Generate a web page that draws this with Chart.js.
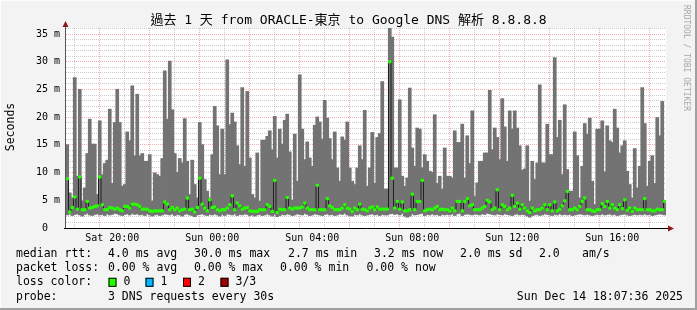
<!DOCTYPE html>
<html>
<head>
<meta charset="utf-8">
<script src="https://cdn.jsdelivr.net/npm/chart.js@4"></script>
<style>
  html, body { margin: 0; padding: 0; background: #f3f3f3; }
  canvas { display: block; }
</style>
</head>
<body>
<canvas id="chart" width="697" height="310"></canvas>
<script>
/* --------------------------------------------
   Data
-------------------------------------------- */
const startHour = 18.15; // Sat 18:09, hours since Sat 00:00
const stepHours = 0.1;

// bottom of the smoke (fastest ping), ms
const smokeMin = [
  2.4, 2.6, 2.3, 2.5, 2.6, 2.4, 2.2, 2.5, 2.7, 2.4, 2.3, 2.5, 2.6, 2.4, 2.5, 2.3, 2.6, 2.4, 2.5, 2.7,
  2.6, 2.4, 2.3, 2.5, 2.6, 2.4, 2.7, 2.5, 2.6, 2.4, 2.5, 2.3, 2.6, 2.4, 2.2, 2.4, 2.5, 2.3, 2.4, 2.6,
  2.5, 2.4, 2.6, 2.3, 2.5, 2.4, 2.2, 2.5, 2.6, 2.4, 2.3, 2.1, 2.4, 2.5, 2.6, 2.4, 2.3, 2.5, 2.4, 2.6,
  2.4, 2.2, 2.5, 2.3, 2.6, 2.5, 2.4, 2.6, 2.3, 2.5, 2.4, 2.6, 2.5, 2.3, 2.4, 2.2, 2.4, 2.5, 2.3, 2.4,
  2.6, 2.4, 2.2, 2.5, 2.1, 2.3, 2.5, 2.4, 2.6, 2.5, 2.3, 2.4, 2.6, 2.5, 2.4, 2.7, 2.5, 2.3, 2.4, 2.6,
  2.5, 2.4, 2.3, 2.5, 2.6, 2.4, 2.5, 2.3, 2.4, 2.6, 2.5, 2.7, 2.4, 2.3, 2.2, 2.5, 2.4, 2.6, 2.4, 2.3,
  2.4, 2.5, 2.6, 2.4, 2.5, 2.3, 2.5, 2.4, 2.4, 2.6, 2.7, 2.5, 2.6, 2.4, 2.7, 2.2, 2.0, 2.2, 2.6, 2.4,
  2.5, 2.6, 2.7, 2.3, 2.5, 2.4, 2.6, 2.4, 2.5, 2.3, 2.5, 2.4, 2.5, 2.4, 2.6, 2.3, 2.6, 2.7, 2.3, 2.5,
  2.6, 2.5, 2.4, 2.6, 2.5, 2.4, 2.6, 2.5, 2.7, 2.6, 2.5, 2.4, 2.6, 2.5, 2.4, 2.6, 2.5, 2.4, 2.3, 2.5,
  2.6, 2.4, 2.5, 2.4, 2.2, 2.0, 2.3, 2.4, 2.5, 2.3, 2.4, 2.6, 2.5, 2.4, 2.3, 2.5, 2.4, 2.6, 2.4, 2.5,
  2.4, 2.5, 2.3, 2.4, 2.5, 2.6, 2.5, 2.4, 2.5, 2.4, 2.3, 2.4, 2.5, 2.4, 2.6, 2.4, 2.5, 2.6, 2.4, 2.5,
  2.3, 2.4, 2.5, 2.6, 2.4, 2.3, 2.4, 2.5, 2.4, 2.5, 2.4, 2.6, 2.4, 2.5, 2.3, 2.4, 2.5, 2.6, 2.5, 2.4,
];

// top of the smoke (slowest ping), ms
const smokeMax = [
  15, 6.3, 5.4, 27.1, 9.3, 25, 4.8, 7.2, 13.4, 19.6, 15.1, 15.1, 6, 19.3, 9.6, 11.6, 12.2, 21.4, 8, 19,
  25, 19, 7.5, 7.8, 17.3, 15.7, 25.6, 13, 24.1, 13, 13.4, 12, 12, 13.2, 4.8, 9.9, 9.6, 9.3, 12.5, 28.3,
  19.6, 30.1, 21.3, 13.4, 10, 12.5, 11.7, 19.7, 12, 6, 12.2, 7.8, 5.4, 19, 15, 8.7, 6.6, 5.4, 13.2, 21.9,
  18.4, 9.6, 17.8, 9.6, 30.3, 18.6, 20.7, 19.1, 14.8, 11.4, 25.3, 11.1, 24.6, 12.6, 6, 5.4, 13.5, 4.8, 15.8, 15.8,
  16.5, 17.5, 14.1, 20.1, 12.6, 17.8, 15.1, 19.4, 20.5, 13.7, 5, 16.9, 8.4, 27.6, 17.8, 12.3, 15.5, 12.6, 11.1, 18.5,
  20, 19.1, 16, 23, 19.8, 16.1, 12.3, 17.3, 10.8, 8.4, 16.4, 15.8, 19.1, 10.8, 8.4, 7.8, 10.8, 14.8, 12.3, 21.2,
  7.5, 10.8, 17.2, 8, 16.3, 17, 26.4, 7, 7, 36.5, 34.4, 10.8, 10.8, 23.1, 9.3, 7.5, 9, 25.2, 14.4, 11.1,
  18, 17.8, 10.8, 13.2, 12, 10.2, 10, 20.4, 8, 9.3, 7, 14.4, 9.3, 9.3, 9, 17.5, 15.4, 15.4, 18.7, 9,
  16.6, 11.6, 21.1, 5.7, 8.1, 12, 12, 13.5, 13.5, 24.8, 14.1, 18, 16.3, 12.3, 23.3, 18.2, 12, 21.1, 17.8, 21.1,
  18, 14.8, 10.4, 10.6, 14.8, 4.8, 12, 8.7, 11.7, 25.8, 11.7, 11.7, 18.7, 13.2, 13.2, 30.7, 16.3, 19.4, 9.6, 22.2,
  10.5, 6.6, 6.6, 17.3, 13, 5.4, 11.1, 18.8, 16.9, 19.8, 8.4, 4.2, 17.8, 17.8, 19.3, 10.1, 18.4, 15.7, 15.4, 21.4,
  18, 13.5, 14.8, 15.7, 10.2, 7.8, 5.4, 14.3, 7.2, 11.1, 25.3, 18.8, 7.5, 12, 13, 8, 19.9, 16.6, 22.8, 4.9,
];

// median rtt, ms
const medianRtt = [
  8.9, 2.9, 3.7, 5.6, 3.4, 9.2, 3.3, 3.3, 4.8, 3.6, 3.7, 3.9, 4.0, 9.2, 4.2, 3.3, 3.3, 3.7, 3.6, 3.4,
  3.6, 3.3, 3.1, 3.9, 3.9, 3.6, 4.3, 4.3, 4.2, 3.9, 3.4, 3.4, 3.4, 3.1, 3.0, 3.1, 3.1, 3.1, 3.1, 4.7,
  4.3, 3.3, 3.7, 3.3, 3.6, 3.1, 3.3, 3.4, 5.4, 3.3, 3.4, 2.9, 3.7, 9.0, 4.3, 3.6, 3.1, 5.1, 3.7, 3.8,
  3.3, 3.1, 3.3, 3.3, 3.6, 4.2, 5.8, 3.3, 4.5, 4.0, 3.4, 3.6, 3.7, 3.1, 3.0, 3.0, 3.0, 3.3, 3.3, 3.3,
  4.2, 3.9, 3.0, 8.6, 2.8, 3.4, 3.3, 3.3, 5.5, 3.6, 3.4, 3.6, 3.6, 3.6, 3.8, 4.5, 3.6, 3.3, 3.3, 3.3,
  7.7, 3.3, 3.3, 3.3, 5.3, 4.0, 3.7, 3.3, 3.3, 3.3, 3.6, 4.2, 3.6, 3.4, 3.0, 3.6, 3.3, 4.3, 3.4, 3.3,
  3.1, 3.6, 3.8, 3.3, 3.8, 3.4, 3.4, 3.4, 3.4, 30.0, 9.0, 3.6, 4.8, 3.4, 4.7, 3.1, 3.1, 3.3, 6.1, 3.3,
  4.8, 4.8, 8.6, 3.1, 3.3, 3.4, 3.3, 3.6, 3.9, 3.3, 3.4, 3.3, 3.3, 3.1, 3.6, 3.1, 4.8, 4.8, 3.1, 4.8,
  5.3, 4.0, 4.2, 3.3, 3.3, 3.3, 3.6, 3.9, 5.0, 4.7, 3.3, 3.6, 6.9, 3.3, 4.2, 3.9, 3.3, 3.6, 5.9, 3.9,
  4.5, 3.4, 4.2, 3.6, 3.1, 2.8, 3.6, 3.1, 3.3, 3.3, 3.6, 4.2, 3.3, 4.2, 3.1, 4.7, 3.1, 3.4, 4.0, 4.9,
  6.6, 3.3, 3.3, 3.6, 3.3, 3.9, 4.8, 5.4, 3.3, 3.3, 3.1, 3.0, 3.3, 3.3, 4.4, 3.9, 4.8, 3.6, 4.2, 3.6,
  3.3, 4.2, 3.5, 5.1, 3.2, 3.6, 3.0, 3.6, 3.3, 3.3, 3.3, 5.3, 3.3, 3.3, 3.1, 3.1, 3.4, 3.3, 3.3, 4.8,
];

const xLabelHours = [20, 24, 28, 32, 36, 40];
const xLabelText = ["Sat 20:00", "Sun 00:00", "Sun 04:00", "Sun 08:00", "Sun 12:00", "Sun 16:00"];
const yLabelValues = [0, 5, 10, 15, 20, 25, 30, 35];
const yLabelText = ["0  ", "5 m", "10 m", "15 m", "20 m", "25 m", "30 m", "35 m"];

const titleText = "過去 1 天 from ORACLE-東京 to Google DNS 解析 8.8.8.8";
const rttStats = ["4.0 ms avg", "30.0 ms max", "2.7 ms min", "3.2 ms now", "2.0 ms sd", "2.0", "am/s"];
const lossStats = ["0.00 % avg", "0.00 % max", "0.00 % min", "0.00 % now"];
const lossLabels = ["0", "1", "2", "3/3"];
const lossColors = ["#26ff00", "#00b8ff", "#ff0000", "#a00000"];
const probeText = "3 DNS requests every 30s";
const stampText = "Sun Dec 14 18:07:36 2025";

/* --------------------------------------------
   Build datasets
-------------------------------------------- */
const medianBand = 0.2; // half thickness of the loss-colour band, ms
const colTimes = smokeMax.map((_, i) => startHour + stepHours * (i + 0.5));

const smokeData = smokeMax.map((hi, i) => ({ x: colTimes[i], y: [smokeMin[i], hi] }));
const bandData = medianRtt.map((m, i) => ({ x: colTimes[i], y: [m - medianBand, m + medianBand] }));
const medianData = medianRtt.map((m, i) => ({ x: colTimes[i], y: m }));

const hourTicks = [];
for (let h = 19; h <= 42; h++) hourTicks.push(h);
const msTicks = [];
for (let v = 0; v <= 36; v++) msTicks.push(v);

const MONO = '"DejaVu Sans Mono", "Noto Sans CJK TC", monospace';

/* --------------------------------------------
   Frame, axes and legend drawn around the plot
-------------------------------------------- */
const smokepingFrame = {
  id: "smokepingFrame",
  beforeDraw(chart) {
    const { ctx, chartArea: a } = chart;
    ctx.save();
    ctx.fillStyle = "#f3f3f3";
    ctx.fillRect(0, 0, chart.width, chart.height);
    ctx.fillStyle = "#ffffff";
    ctx.fillRect(a.left, a.top, a.right - a.left, a.bottom - a.top);
    ctx.restore();
  },
  afterDraw(chart) {
    const { ctx, chartArea: a } = chart;
    const W = chart.width;
    const H = chart.height;
    ctx.save();

    // 3d border
    ctx.fillStyle = "#fdfdfd";
    ctx.fillRect(0, 0, W, 1);
    ctx.fillRect(0, 0, 1, H);
    ctx.fillStyle = "#a0a0a0";
    ctx.fillRect(W - 2, 0, 2, H);
    ctx.fillRect(0, H - 2, W, 2);

    // axes
    ctx.strokeStyle = "#555";
    ctx.lineWidth = 1;
    ctx.beginPath();
    ctx.moveTo(a.left - 0.5, a.bottom);
    ctx.lineTo(a.left - 0.5, a.top - 2);
    ctx.stroke();
    ctx.strokeStyle = "#000";
    ctx.beginPath();
    ctx.moveTo(a.left - 2, a.bottom + 0.5);
    ctx.lineTo(a.right + 3, a.bottom + 0.5);
    ctx.stroke();

    // arrows
    ctx.fillStyle = "#8b1a1a";
    ctx.beginPath();
    ctx.moveTo(a.left - 0.5, a.top - 7);
    ctx.lineTo(a.left - 3.5, a.top - 1);
    ctx.lineTo(a.left + 2.5, a.top - 1);
    ctx.closePath();
    ctx.fill();
    ctx.beginPath();
    ctx.moveTo(a.right + 8, a.bottom + 0.5);
    ctx.lineTo(a.right + 2, a.bottom - 2.5);
    ctx.lineTo(a.right + 2, a.bottom + 3.5);
    ctx.closePath();
    ctx.fill();

    // title
    ctx.fillStyle = "#000";
    ctx.font = "13px " + MONO;
    ctx.textAlign = "center";
    ctx.textBaseline = "middle";
    ctx.fillText(titleText, 348.5, 21);

    // vertical axis title
    ctx.font = "11.5px " + MONO;
    ctx.save();
    ctx.translate(11, 127);
    ctx.rotate(-Math.PI / 2);
    ctx.fillText("Seconds", 0, 0);
    ctx.restore();

    // watermark
    ctx.save();
    ctx.fillStyle = "#a8a8a8";
    ctx.font = "8px " + MONO;
    ctx.translate(686, 5);
    ctx.rotate(Math.PI / 2);
    ctx.textAlign = "left";
    ctx.fillText("RRDTOOL / TOBI OETIKER", 0, 0);
    ctx.restore();

    // legend
    ctx.font = "11.5px " + MONO;
    ctx.textAlign = "left";
    ctx.textBaseline = "middle";
    const rowY = [254, 268.3, 282.3, 296.7];

    ctx.fillText("median rtt:", 16, rowY[0]);
    [108, 194, 288, 374, 460, 539, 582].forEach((x, i) => ctx.fillText(rttStats[i], x, rowY[0]));

    ctx.fillText("packet loss:", 16, rowY[1]);
    [108, 194, 280, 366.5].forEach((x, i) => ctx.fillText(lossStats[i], x, rowY[1]));

    ctx.fillText("loss color:", 16, rowY[2]);
    [108.5, 145.5, 183, 220.5].forEach((x, i) => {
      ctx.fillStyle = lossColors[i];
      ctx.fillRect(x, rowY[2] - 4.5, 8, 9);
      ctx.strokeStyle = "#000";
      ctx.strokeRect(x + 0.5, rowY[2] - 4, 7, 8);
      ctx.fillStyle = "#000";
      ctx.fillText(lossLabels[i], x + 15, rowY[2]);
    });

    ctx.fillText("probe:", 16, rowY[3]);
    ctx.fillText(probeText, 108, rowY[3]);
    ctx.textAlign = "right";
    ctx.fillText(stampText, 683, rowY[3]);

    ctx.restore();
  },
};

/* --------------------------------------------
   Chart
-------------------------------------------- */
const minorGrid = "rgba(160,160,160,0.55)";
const majorGrid = "rgba(240,120,120,0.6)";

new Chart(document.getElementById("chart"), {
  type: "bar",
  data: {
    datasets: [
      {
        type: "bar",
        label: "smoke",
        data: smokeData,
        backgroundColor: "#737373",
        borderWidth: 0,
        inflateAmount: 0.6,
        grouped: false,
        barPercentage: 1,
        categoryPercentage: 1,
        order: 3,
      },
      {
        type: "line",
        label: "median",
        data: medianData,
        borderColor: "#202020",
        borderWidth: 1,
        pointRadius: 0,
        stepped: "middle",
        order: 2,
      },
      {
        type: "bar",
        label: "loss 0",
        data: bandData,
        backgroundColor: lossColors[0],
        borderWidth: 0,
        inflateAmount: 0.4,
        grouped: false,
        barPercentage: 1,
        categoryPercentage: 1,
        order: 1,
      },
    ],
  },
  options: {
    responsive: false,
    animation: false,
    devicePixelRatio: 1,
    events: [],
    layout: { padding: { left: 0, top: 28, right: 31, bottom: 0 } },
    plugins: {
      legend: { display: false },
      title: { display: false },
      tooltip: { enabled: false },
    },
    scales: {
      x: {
        type: "linear",
        offset: false,
        min: startHour,
        max: startHour + stepHours * smokeMax.length,
        z: 1,
        afterBuildTicks: (axis) => {
          axis.ticks = hourTicks.map((value) => ({ value }));
        },
        afterFit: (axis) => {
          axis.height = 82;
        },
        grid: {
          drawTicks: false,
          color: (ctx) => (ctx.tick && ctx.tick.value % 2 === 0 ? majorGrid : minorGrid),
        },
        border: { display: false, dash: [1, 1] },
        ticks: {
          autoSkip: false,
          maxRotation: 0,
          padding: 4,
          color: "#000",
          font: { family: "DejaVu Sans Mono", size: 10 },
          callback: (value) => {
            const i = xLabelHours.indexOf(value);
            return i >= 0 ? xLabelText[i] : "";
          },
        },
      },
      y: {
        type: "linear",
        min: 0,
        max: 36.1,
        z: 1,
        afterBuildTicks: (axis) => {
          axis.ticks = msTicks.map((value) => ({ value }));
        },
        afterFit: (axis) => {
          axis.width = 66;
        },
        grid: {
          drawTicks: false,
          color: (ctx) => {
            if (!ctx.tick || ctx.tick.value === 0) return "rgba(0,0,0,0)";
            return ctx.tick.value % 5 === 0 ? majorGrid : minorGrid;
          },
        },
        border: { display: false, dash: [1, 1] },
        ticks: {
          autoSkip: false,
          padding: 6,
          color: "#000",
          font: { family: "DejaVu Sans Mono", size: 10 },
          callback: (value) => {
            const i = yLabelValues.indexOf(value);
            return i >= 0 ? yLabelText[i] : "";
          },
        },
      },
    },
  },
  plugins: [smokepingFrame],
});
</script>
</body>
</html>
